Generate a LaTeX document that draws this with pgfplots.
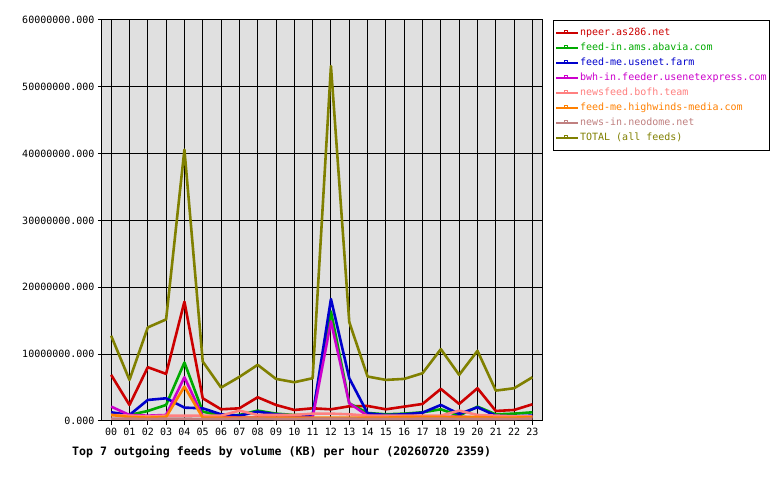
\documentclass[border=0pt]{standalone}
\usepackage{fontspec}
\setmainfont{DejaVu Sans Mono}
\usepackage{pgfplots}
\usepackage{pgfplotstable}
\pgfplotsset{compat=1.18}

\definecolor{cNpeer}{RGB}{204,0,0}
\definecolor{cAms}{RGB}{0,170,0}
\definecolor{cFarm}{RGB}{0,0,204}
\definecolor{cBwh}{RGB}{204,0,204}
\definecolor{cBofh}{RGB}{255,128,128}
\definecolor{cHigh}{RGB}{255,128,0}
\definecolor{cNeo}{RGB}{192,128,128}
\definecolor{cTotal}{RGB}{128,128,0}
\definecolor{plotbg}{RGB}{224,224,224}

% volume in KB per hour
\pgfplotstableread{
h  npeer    ams      farm     bwh      bofh    high    neo     total
0  6900000  1000000  1300000  2150000  900000  900000  350000  12750000
1  2400000  900000   900000   900000   800000  600000  350000  6150000
2  8050000  1500000  3150000  800000   700000  500000  300000  14000000
3  7050000  2400000  3400000  900000   800000  600000  350000  15200000
4  17850000 8750000  2000000  6550000  800000  5150000 350000  40600000
5  3400000  1400000  1900000  700000   800000  500000  300000  8900000
6  1750000  800000   1000000  600000   800000  500000  300000  5000000
7  1900000  900000   800000   500000   1550000 500000  350000  6600000
8  3550000  1550000  1400000  500000   900000  500000  350000  8400000
9  2400000  1100000  1000000  500000   900000  500000  300000  6300000
10 1650000  900000   800000   500000   900000  500000  300000  5800000
11 1900000  900000   800000   500000   1100000 500000  350000  6400000
12 1750000  16400000 18250000 14900000 1100000 500000  350000  53100000
13 2200000  2650000  6400000  2650000  1000000 500000  350000  14800000
14 2250000  1200000  1150000  800000   800000  500000  300000  6650000
15 1750000  1000000  900000   600000   800000  500000  300000  6150000
16 2150000  1100000  1000000  600000   800000  600000  300000  6300000
17 2550000  1300000  1250000  600000   800000  600000  350000  7150000
18 4800000  1750000  2400000  600000   800000  600000  350000  10750000
19 2550000  800000   1050000  650000   1550000 600000  300000  6900000
20 4900000  2150000  2050000  500000   900000  600000  300000  10500000
21 1500000  1000000  800000   500000   800000  500000  300000  4550000
22 1650000  1100000  700000   500000   700000  500000  300000  4900000
23 2500000  1300000  800000   600000   700000  600000  350000  6550000
}\feeds

\begin{document}
\begin{tikzpicture}
\path[use as bounding box] (-102bp,-59bp) rectangle (678bp,421bp);
\begin{axis}[
    at={(0,0)}, anchor=south west,
    scale only axis,
    width=440.5bp, height=401bp,
    xmin=-0.5, xmax=23.55,
    ymin=0, ymax=60000000,
    xtick={0,...,23},
    xticklabels={00,01,02,03,04,05,06,07,08,09,10,11,12,13,14,15,16,17,18,19,20,21,22,23},
    ytick={0,10000000,20000000,30000000,40000000,50000000,60000000},
    yticklabels={0.000,10000000.000,20000000.000,30000000.000,40000000.000,50000000.000,60000000.000},
    /pgf/number format/assume math mode=true,
    scaled y ticks=false,
    tick pos=left,
    tick align=outside,
    major tick length=4bp,
    tick style={black, line width=1bp},
    axis line style={black, line width=1bp},
    axis background/.style={fill=plotbg},
    grid=major,
    major grid style={black, line width=1bp},
    ticklabel style={font=\fontsize{10bp}{12bp}\selectfont},
    every axis plot/.append style={line width=2.6bp, line join=round},
    legend style={at={(1.0238,1)}, anchor=north west, draw=black, line width=1bp,
        fill=white, font=\fontsize{10bp}{12bp}\selectfont,
        inner xsep=1.5bp, inner ysep=6.5bp, row sep=3bp,
        nodes={inner sep=1bp, text height=8bp, text depth=2bp}},
    legend cell align=left,
    legend image code/.code={
        \draw[line width=0.8bp] (0bp,0bp) -- (20bp,0bp);
        \draw[line width=0.7bp, fill=white] (8.5bp,0bp) rectangle (11.5bp,2.5bp);
        \path (0bp,0bp) -- (21.5bp,0bp);
    },
]
\addplot[cNpeer] table[x=h, y=npeer] {\feeds};
\addlegendentry{\textcolor{cNpeer}{npeer.as286.net}}
\addplot[cAms] table[x=h, y=ams] {\feeds};
\addlegendentry{\textcolor{cAms}{feed-in.ams.abavia.com}}
\addplot[cFarm] table[x=h, y=farm] {\feeds};
\addlegendentry{\textcolor{cFarm}{feed-me.usenet.farm}}
\addplot[cBwh] table[x=h, y=bwh] {\feeds};
\addlegendentry{\textcolor{cBwh}{bwh-in.feeder.usenetexpress.com}}
\addplot[cBofh] table[x=h, y=bofh] {\feeds};
\addlegendentry{\textcolor{cBofh}{newsfeed.bofh.team}}
\addplot[cHigh] table[x=h, y=high] {\feeds};
\addlegendentry{\textcolor{cHigh}{feed-me.highwinds-media.com}}
\addplot[cNeo] table[x=h, y=neo] {\feeds};
\addlegendentry{\textcolor{cNeo}{news-in.neodome.net}}
\addplot[cTotal] table[x=h, y=total] {\feeds};
\addlegendentry{\textcolor{cTotal}{TOTAL (all feeds)}}
\end{axis}
\node[anchor=west, inner sep=0pt, font=\bfseries\fontsize{11.6bp}{13bp}\selectfont]
    at (-30bp,-31bp) {Top 7 outgoing feeds by volume (KB) per hour (20260720 2359)};
\end{tikzpicture}
\end{document}
